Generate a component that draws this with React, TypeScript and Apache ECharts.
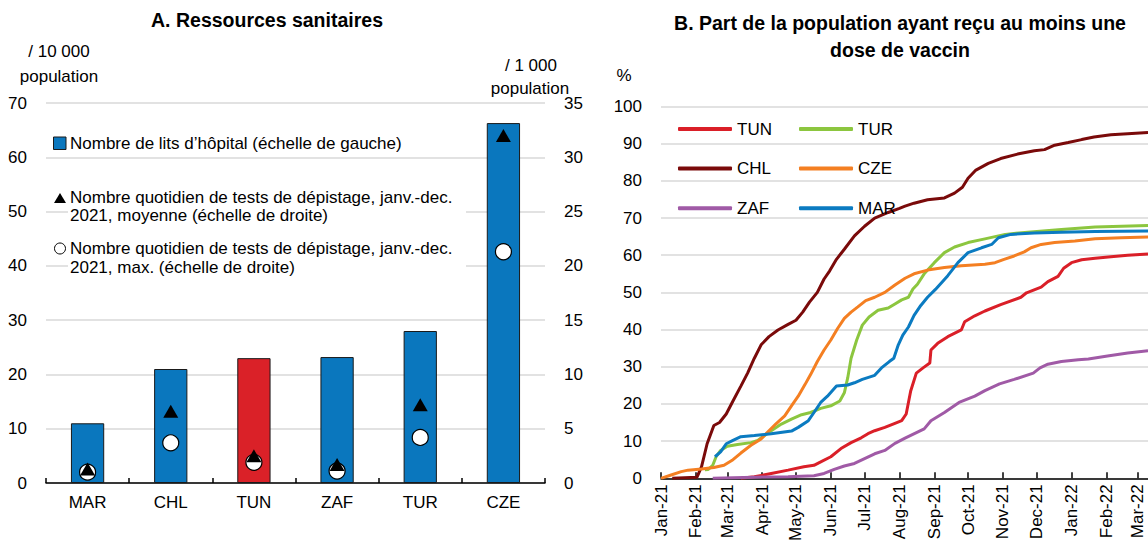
import React, { useEffect, useRef } from 'react';
import * as echarts from 'echarts';

// ---------- Panel A data ----------
const CATEGORIES = ['MAR', 'CHL', 'TUN', 'ZAF', 'TUR', 'CZE'];
const HOSPITAL_BEDS = [11, 21, 23, 23.2, 28, 66.3]; // / 10 000 population (left scale)
const TESTS_MEAN = [1.3, 6.6, 2.5, 1.7, 7.2, 32.0]; // / 1 000 population (right scale)
const TESTS_MAX = [1.0, 3.7, 1.9, 1.1, 4.2, 21.3]; // / 1 000 population (right scale)
const HIGHLIGHT = 'TUN';

// ---------- Panel B data (share with at least one dose, %) ----------
const MONTH_LABELS = ['Jan', 'Feb', 'Mar', 'Apr', 'May', 'Jun', 'Jul', 'Aug', 'Sep', 'Oct', 'Nov', 'Dec'];
const X_MIN = '2021-01-01';
const X_MAX = '2022-03-10';

type Pt = [string, number];

const TUN: Pt[] = [
  ['2021-03-13', 0], ['2021-03-25', 0.4], ['2021-04-09', 1.3], ['2021-04-24', 2.2], ['2021-05-08', 3.1],
  ['2021-05-17', 3.5], ['2021-05-23', 4.4], ['2021-06-01', 5.8], ['2021-06-10', 8.0], ['2021-06-19', 9.6],
  ['2021-06-28', 10.9], ['2021-07-04', 12.0], ['2021-07-10', 12.8], ['2021-07-19', 13.7], ['2021-07-28', 14.8],
  ['2021-08-03', 15.5], ['2021-08-07', 17.3], ['2021-08-11', 23.5], ['2021-08-16', 28.3], ['2021-08-22', 29.7],
  ['2021-08-28', 31.0], ['2021-08-29', 34.5], ['2021-09-04', 36.3], ['2021-09-13', 38.1], ['2021-09-25', 39.9],
  ['2021-09-28', 42.1], ['2021-10-07', 43.7], ['2021-10-16', 45.0], ['2021-10-30', 46.7], ['2021-11-17', 48.7],
  ['2021-11-22', 49.9], ['2021-12-05', 51.4], ['2021-12-11', 52.9], ['2021-12-20', 54.3], ['2021-12-25', 56.5],
  ['2022-01-01', 58.0], ['2022-01-10', 58.8], ['2022-01-22', 59.2], ['2022-02-05', 59.6], ['2022-02-20', 60.0],
  ['2022-03-10', 60.3],
];

const TUR: Pt[] = [
  ['2021-02-09', 2.3], ['2021-02-12', 2.4], ['2021-02-16', 3.5], ['2021-02-19', 5.8], ['2021-02-23', 7.5],
  ['2021-03-01', 8.6], ['2021-03-10', 9.1], ['2021-03-22', 9.6], ['2021-03-28', 10.2], ['2021-04-03', 11.5],
  ['2021-04-09', 12.8], ['2021-04-18', 14.6], ['2021-04-27', 15.9], ['2021-05-06', 17.1], ['2021-05-14', 17.7],
  ['2021-05-23', 18.8], ['2021-06-01', 19.5], ['2021-06-09', 20.8], ['2021-06-13', 23.0], ['2021-06-16', 27.0],
  ['2021-06-19', 32.3], ['2021-06-24', 37.2], ['2021-06-29', 41.2], ['2021-07-05', 43.4], ['2021-07-13', 45.2],
  ['2021-07-22', 45.8], ['2021-07-28', 46.9], ['2021-08-03', 48.0], ['2021-08-09', 48.7], ['2021-08-13', 50.9],
  ['2021-08-17', 52.2], ['2021-08-23', 55.0], ['2021-09-01', 58.0], ['2021-09-10', 60.7], ['2021-09-19', 62.2],
  ['2021-10-01', 63.4], ['2021-10-16', 64.4], ['2021-11-03', 65.6], ['2021-11-23', 66.2], ['2021-12-23', 66.9],
  ['2022-01-22', 67.6], ['2022-03-10', 68.0],
];

const CHL: Pt[] = [
  ['2021-01-11', 0], ['2021-02-02', 0.3], ['2021-02-06', 3.1], ['2021-02-11', 9.3], ['2021-02-17', 14.2],
  ['2021-02-22', 15.0], ['2021-02-28', 17.3], ['2021-03-06', 20.8], ['2021-03-13', 24.8], ['2021-03-19', 28.3],
  ['2021-03-25', 32.3], ['2021-03-31', 35.9], ['2021-04-07', 38.1], ['2021-04-15', 39.9], ['2021-04-24', 41.4],
  ['2021-05-01', 42.5], ['2021-05-07', 44.7], ['2021-05-13', 47.4], ['2021-05-20', 50.0], ['2021-05-26', 53.6],
  ['2021-05-31', 55.8], ['2021-06-06', 58.9], ['2021-06-13', 61.6], ['2021-06-22', 65.2], ['2021-07-01', 67.8],
  ['2021-07-10', 70.0], ['2021-07-22', 71.5], ['2021-08-01', 72.6], ['2021-08-06', 73.2], ['2021-08-14', 74.0],
  ['2021-08-26', 74.9], ['2021-09-10', 75.4], ['2021-09-19', 76.7], ['2021-09-26', 78.3], ['2021-10-01', 80.7],
  ['2021-10-08', 82.9], ['2021-10-19', 84.7], ['2021-10-30', 86.0], ['2021-11-14', 87.2], ['2021-11-29', 88.1],
  ['2021-12-08', 88.4], ['2021-12-17', 89.6], ['2021-12-29', 90.3], ['2022-01-10', 91.1], ['2022-01-21', 91.8],
  ['2022-02-05', 92.4], ['2022-02-20', 92.7], ['2022-03-10', 93.0],
];

const CZE: Pt[] = [
  ['2021-01-01', 0], ['2021-01-10', 0.9], ['2021-01-19', 1.8], ['2021-01-25', 2.2], ['2021-02-06', 2.5],
  ['2021-02-17', 2.9], ['2021-02-26', 3.5], ['2021-03-06', 5.0], ['2021-03-13', 6.8], ['2021-03-22', 8.9],
  ['2021-03-31', 10.6], ['2021-04-07', 12.8], ['2021-04-13', 14.6], ['2021-04-21', 16.8], ['2021-04-27', 19.5],
  ['2021-05-03', 22.1], ['2021-05-09', 25.2], ['2021-05-14', 27.9], ['2021-05-20', 31.4], ['2021-05-26', 34.5],
  ['2021-06-01', 37.2], ['2021-06-07', 40.3], ['2021-06-13', 43.0], ['2021-06-19', 44.7], ['2021-06-25', 46.1],
  ['2021-07-02', 47.8], ['2021-07-10', 48.7], ['2021-07-19', 50.0], ['2021-07-28', 52.0], ['2021-08-06', 53.8],
  ['2021-08-14', 55.0], ['2021-08-26', 56.0], ['2021-09-10', 56.7], ['2021-09-25', 57.2], ['2021-10-16', 57.6],
  ['2021-10-25', 58.0], ['2021-11-02', 58.9], ['2021-11-11', 59.8], ['2021-11-20', 60.9], ['2021-11-26', 62.0],
  ['2021-12-05', 62.9], ['2021-12-17', 63.4], ['2022-01-04', 63.8], ['2022-01-22', 64.4], ['2022-02-14', 64.7],
  ['2022-03-10', 64.9],
];

const ZAF: Pt[] = [
  ['2021-02-16', 0], ['2021-03-25', 0.3], ['2021-04-24', 0.4], ['2021-05-17', 0.7], ['2021-05-26', 1.3],
  ['2021-06-04', 2.4], ['2021-06-13', 3.3], ['2021-06-22', 4.0], ['2021-07-01', 5.3], ['2021-07-10', 6.6],
  ['2021-07-19', 7.5], ['2021-07-28', 9.4], ['2021-08-06', 10.8], ['2021-08-23', 13.3], ['2021-08-29', 15.5],
  ['2021-09-10', 17.7], ['2021-09-23', 20.4], ['2021-10-07', 22.1], ['2021-10-16', 23.6], ['2021-10-29', 25.4],
  ['2021-11-11', 26.6], ['2021-11-28', 28.3], ['2021-12-04', 29.7], ['2021-12-11', 30.7], ['2021-12-23', 31.4],
  ['2022-01-07', 31.9], ['2022-01-16', 32.1], ['2022-02-02', 32.9], ['2022-02-20', 33.7], ['2022-03-10', 34.3],
];

const MAR: Pt[] = [
  ['2021-02-18', 5.8], ['2021-02-23', 7.1], ['2021-02-28', 9.3], ['2021-03-06', 10.2], ['2021-03-13', 11.2],
  ['2021-03-25', 11.5], ['2021-04-09', 12.0], ['2021-04-27', 12.7], ['2021-05-03', 13.7], ['2021-05-12', 15.5],
  ['2021-05-17', 17.7], ['2021-05-23', 20.4], ['2021-05-29', 22.1], ['2021-06-06', 24.8], ['2021-06-16', 25.1],
  ['2021-06-22', 25.7], ['2021-06-29', 26.6], ['2021-07-10', 27.7], ['2021-07-16', 29.7], ['2021-07-23', 31.4],
  ['2021-07-27', 32.3], ['2021-07-31', 35.9], ['2021-08-04', 38.5], ['2021-08-09', 40.7], ['2021-08-14', 43.8],
  ['2021-08-20', 46.5], ['2021-08-26', 48.7], ['2021-09-02', 50.8], ['2021-09-13', 54.5], ['2021-09-22', 58.0],
  ['2021-10-01', 60.7], ['2021-10-13', 62.0], ['2021-10-22', 62.9], ['2021-10-28', 64.7], ['2021-11-08', 65.6],
  ['2021-11-29', 66.0], ['2021-12-23', 66.2], ['2022-01-22', 66.4], ['2022-03-10', 66.5],
];

const LINE_SERIES: { name: string; data: Pt[]; color: string }[] = [
  { name: 'TUN', data: TUN, color: '#DA1F28' },
  { name: 'TUR', data: TUR, color: '#8CC63F' },
  { name: 'CHL', data: CHL, color: '#7A0A0A' },
  { name: 'CZE', data: CZE, color: '#F47F22' },
  { name: 'ZAF', data: ZAF, color: '#A05AA6' },
  { name: 'MAR', data: MAR, color: '#0B7BC1' },
];

const FONT = '"Liberation Sans", Arial, Helvetica, sans-serif';
const BLUE = '#0A77BE';
const RED = '#DA2128';
const GRID_GRAY = '#D9D9D9';

export default function App() {
  const ref = useRef<HTMLDivElement>(null);

  useEffect(() => {
    if (!ref.current) return;
    const chart = echarts.init(ref.current, null, { renderer: 'svg' });

    const txt = (text: string, x: number, y: number, extra: any = {}) => ({
      type: 'text',
      x,
      y,
      silent: true,
      z: 10,
      style: {
        text,
        fontSize: 17,
        fontFamily: FONT,
        fill: '#000',
        align: 'left',
        verticalAlign: 'middle',
        ...extra,
      },
    });

    const option: any = {
      animation: false,
      backgroundColor: '#fff',
      textStyle: { fontFamily: FONT },
      grid: [
        { left: 46, right: 603, top: 103, bottom: 61, containLabel: false },
        { left: 661, right: 0, top: 106.5, bottom: 61.7, containLabel: false },
      ],
      xAxis: [
        {
          type: 'category',
          gridIndex: 0,
          data: CATEGORIES,
          axisLine: { lineStyle: { color: '#000', width: 1.5 } },
          axisTick: { show: true, inside: true, length: 5, lineStyle: { color: '#000', width: 1.5 } },
          axisLabel: { color: '#000', fontSize: 17, fontFamily: FONT, margin: 11 },
        },
        {
          type: 'time',
          gridIndex: 1,
          min: X_MIN,
          max: X_MAX,
          minInterval: 28 * 24 * 3600 * 1000,
          maxInterval: 31 * 24 * 3600 * 1000,
          axisLine: { lineStyle: { color: '#000', width: 1.5 } },
          axisTick: { show: true, inside: true, length: 6, lineStyle: { color: '#000', width: 1.5 } },
          splitLine: { show: false },
          axisLabel: {
            color: '#000',
            fontSize: 17,
            fontFamily: FONT,
            rotate: 90,
            margin: 6,
            interval: 0,
            hideOverlap: false,
            formatter: (v: number) => {
              const d = new Date(v);
              return MONTH_LABELS[d.getMonth()] + '-' + String(d.getFullYear()).slice(2);
            },
          },
        },
      ],
      yAxis: [
        {
          type: 'value',
          gridIndex: 0,
          min: 0,
          max: 70,
          interval: 10,
          axisLine: { show: false },
          axisTick: { show: false },
          splitLine: { lineStyle: { color: GRID_GRAY, width: 1.5 } },
          axisLabel: { color: '#000', fontSize: 17, fontFamily: FONT, margin: 19 },
        },
        {
          type: 'value',
          gridIndex: 0,
          position: 'right',
          min: 0,
          max: 35,
          interval: 5,
          axisLine: { show: false },
          axisTick: { show: false },
          splitLine: { show: false },
          axisLabel: { color: '#000', fontSize: 17, fontFamily: FONT, margin: 19 },
        },
        {
          type: 'value',
          gridIndex: 1,
          min: 0,
          max: 100,
          interval: 10,
          axisLine: { show: false },
          axisTick: { show: false },
          splitLine: { lineStyle: { color: GRID_GRAY, width: 1.5 } },
          axisLabel: { color: '#000', fontSize: 17, fontFamily: FONT, margin: 19 },
        },
      ],
      legend: [
        {
          data: ['TUN', 'CHL', 'ZAF'],
          orient: 'vertical',
          left: 673,
          top: 114,
          itemWidth: 54,
          itemHeight: 4,
          itemGap: 19.6,
          icon: 'roundRect',
          selectedMode: false,
          textStyle: { fontSize: 17, lineHeight: 20, color: '#000', fontFamily: FONT },
        },
        {
          data: ['TUR', 'CZE', 'MAR'],
          orient: 'vertical',
          left: 794,
          top: 114,
          itemWidth: 54,
          itemHeight: 4,
          itemGap: 19.6,
          icon: 'roundRect',
          selectedMode: false,
          textStyle: { fontSize: 17, lineHeight: 20, color: '#000', fontFamily: FONT },
        },
      ],
      graphic: [
        // titles
        txt('A. Ressources sanitaires', 267, 20, { align: 'center', fontSize: 19.5, fontWeight: 'bold' }),
        txt('B. Part de la population ayant reçu au moins une\ndose de vaccin', 900, 36.5, {
          align: 'center',
          fontSize: 19.5,
          fontWeight: 'bold',
          lineHeight: 27,
        }),
        // axis units
        txt('/ 10 000', 59, 51, { align: 'center' }),
        txt('population', 59, 76, { align: 'center' }),
        txt('/ 1 000', 531, 65, { align: 'center' }),
        txt('population', 530, 88, { align: 'center' }),
        txt('%', 624, 75, { align: 'center' }),
        // panel A legend
        {
          type: 'rect',
          silent: true,
          z: 9,
          shape: { x: 68, y: 186, width: 398, height: 92 },
          style: { fill: '#fff' },
        },
        {
          type: 'rect',
          silent: true,
          z: 10,
          shape: { x: 53.5, y: 137, width: 12.5, height: 12.5 },
          style: { fill: BLUE, stroke: '#1a1a1a', lineWidth: 1 },
        },
        txt('Nombre de lits d’hôpital (échelle de gauche)', 70, 143),
        {
          type: 'polygon',
          silent: true,
          z: 10,
          shape: { points: [[54, 203], [66, 203], [60, 193]] },
          style: { fill: '#000' },
        },
        txt('Nombre quotidien de tests de dépistage, janv.-dec.', 70, 197),
        txt('2021, moyenne (échelle de droite)', 70, 215.5),
        {
          type: 'circle',
          silent: true,
          z: 10,
          shape: { cx: 60, cy: 248.5, r: 5.5 },
          style: { fill: '#fff', stroke: '#000', lineWidth: 1 },
        },
        txt('Nombre quotidien de tests de dépistage, janv.-dec.', 70, 248.5),
        txt('2021, max. (échelle de droite)', 70, 267),
      ],
      series: [
        {
          name: 'Nombre de lits d’hôpital',
          type: 'bar',
          xAxisIndex: 0,
          yAxisIndex: 0,
          barWidth: '40%',
          data: HOSPITAL_BEDS.map((v, i) => ({
            value: v,
            itemStyle: { color: CATEGORIES[i] === HIGHLIGHT ? RED : BLUE },
          })),
          itemStyle: { color: BLUE, borderColor: '#1a1a1a', borderWidth: 1 },
        },
        {
          name: 'max',
          type: 'scatter',
          xAxisIndex: 0,
          yAxisIndex: 1,
          symbol: 'circle',
          symbolSize: 16,
          data: TESTS_MAX,
          itemStyle: { color: '#fff', borderColor: '#000', borderWidth: 1.2, opacity: 1 },
          z: 3,
        },
        {
          name: 'moyenne',
          type: 'scatter',
          xAxisIndex: 0,
          yAxisIndex: 1,
          symbol: 'triangle',
          symbolSize: [15, 13],
          data: TESTS_MEAN,
          itemStyle: { color: '#000', opacity: 1 },
          z: 4,
        },
        ...LINE_SERIES.map((s) => ({
          name: s.name,
          type: 'line',
          xAxisIndex: 1,
          yAxisIndex: 2,
          data: s.data,
          showSymbol: false,
          symbol: 'none',
          lineStyle: { color: s.color, width: 3 },
          itemStyle: { color: s.color },
          emphasis: { disabled: true },
        })),
      ],
    };

    chart.setOption(option);
    return () => chart.dispose();
  }, []);

  return (
    <div
      ref={ref}
      style={{ position: 'fixed', left: 0, top: 0, width: 1148, height: 544, background: '#fff' }}
    />
  );
}
